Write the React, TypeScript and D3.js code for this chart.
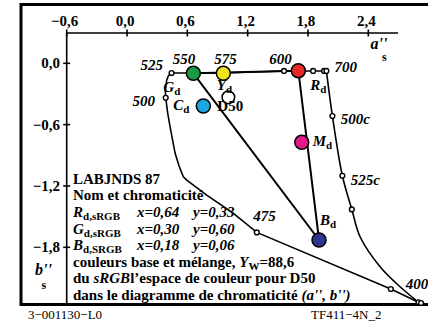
import React from "react";
import * as d3 from "d3";

const xTickValues = [-0.6, 0.0, 0.6, 1.2, 1.8, 2.4];
const xTickLabels = ["−0,6", "0,0", "0,6", "1,2", "1,8", "2,4"];
const yTickValues = [0.0, -0.6, -1.2, -1.8];
const yTickLabels = ["0,0", "−0,6", "−1,2", "−1,8"];

// spectral locus, left/top branch (400 nm -> 700 nm)
const locusA = [2.900, 2.624, 1.291, 1.055, 0.793, 0.594, 0.560, 0.517, 0.478, 0.453, 0.428, 0.403, 0.385, 0.381, 0.395, 0.413, 0.443, 0.657, 0.965, 1.562, 1.692, 1.851, 1.960, 1.983];
const locusB = [-2.338, -2.208, -1.654, -1.465, -1.289, -1.142, -1.110, -1.003, -0.878, -0.750, -0.620, -0.477, -0.337, -0.261, -0.163, -0.119, -0.095, -0.095, -0.095, -0.075, -0.075, -0.075, -0.075, -0.075];
// purple branch (700 -> 400 through compensatory wavelengths)
const purpleA = [1.983, 2.043, 2.142, 2.236, 2.318, 2.517, 2.716, 2.900];
const purpleB = [-0.075, -0.516, -1.100, -1.429, -1.697, -1.990, -2.186, -2.338];
// small marker circles
const markA = [2.900, 2.925, 2.624, 1.291, 0.385, 0.443, 1.562, 1.851, 1.960, 1.983, 2.043, 2.142, 2.236];
const markB = [-2.338, -2.345, -2.208, -1.654, -0.337, -0.095, -0.075, -0.075, -0.075, -0.075, -0.516, -1.100, -1.429];
// wavelength labels
const waveLabels = ["400", "475", "500", "525", "550", "575", "600", "700", "500c", "525c"];
const waveA = [2.900, 1.291, 0.385, 0.443, 0.657, 0.965, 1.562, 1.983, 2.043, 2.142];
const waveB = [-2.338, -1.654, -0.337, -0.095, -0.095, -0.095, -0.075, -0.075, -0.516, -1.100];

// primaries and mixtures
const colorNames = ["G", "Y", "R", "C", "M", "B"];
const colorA = [0.660, 0.958, 1.704, 0.759, 1.738, 1.910];
const colorB = [-0.098, -0.098, -0.072, -0.418, -0.773, -1.729];
const colorFill = ["#1c9a46", "#f4e41c", "#e62a2a", "#1ea6e2", "#e2188b", "#2d3591"];
const triangleOrder = ["G", "R", "B"];
const whiteName = "D50";
const whiteA = 1.008;
const whiteB = -0.333;

const W = 428;
const H = 324;

export default function App() {
  const x = d3.scaleLinear().domain([-0.6, 2.4]).range([66.7, 368.3]);
  const y = d3.scaleLinear().domain([0, -1.8]).range([63.3, 247.3]);

  const line = d3.line<[number, number]>().x((d) => x(d[0])).y((d) => y(d[1]));
  const smooth = d3
    .line<[number, number]>()
    .x((d) => x(d[0]))
    .y((d) => y(d[1]))
    .curve(d3.curveCatmullRom);

  const locus: [number, number][] = locusA.map((a, i) => [a, locusB[i]]);
  const purple: [number, number][] = purpleA.map((a, i) => [a, purpleB[i]]);
  const idx = (n: string) => colorNames.indexOf(n);
  const tri: [number, number][] = triangleOrder.map((n) => [colorA[idx(n)], colorB[idx(n)]]);
  tri.push(tri[0]);

  const P = (n: string) => [x(colorA[idx(n)]), y(colorB[idx(n)])];

  const waveOffsets: Record<string, [number, number, string]> = {
    "400": [-12.8, -13.5, "start"],
    "475": [7.6, -11, "middle"],
    "500": [-10.7, 8.3, "end"],
    "525": [-8.5, -3, "end"],
    "550": [-9, -9.5, "middle"],
    "575": [1.5, -9.5, "middle"],
    "600": [-3.5, -7, "middle"],
    "700": [8, 1.5, "start"],
    "500c": [8.4, 8, "start"],
    "525c": [8.4, 9, "start"],
  };

  const letterOff: Record<string, [number, number]> = {
    G: [-30, 19],
    Y: [-6.6, 17],
    R: [12, 19],
    C: [-30, 4],
    M: [11, 4],
    B: [1, -15],
  };

  const font = "'Liberation Serif', 'Times New Roman', 'DejaVu Serif', serif";
  const fs = 15;
  const sub = 11;

  const xAxisY = 33;
  const xAxisEnd = x(2.696);
  const yAxisBottom = 305;

  const legendX = 73;
  const lh = 16.6;
  const l0 = 183.7;

  const legendRows = [
    { n: "R", s: "d,sRGB", xv: "x=0,64", yv: "y=0,33" },
    { n: "G", s: "d,sRGB", xv: "x=0,30", yv: "y=0,60" },
    { n: "B", s: "d,SRGB", xv: "x=0,18", yv: "y=0,06" },
  ];

  return (
    <svg
      width={W}
      height={H}
      style={{ position: "absolute", left: 0, top: 0, background: "#fff", fontFamily: font }}
    >
      <rect x={0} y={0} width={W} height={H} fill="#fff" />
      {/* frame */}
      <rect x={21} y={4.5} width={440} height={300} fill="none" stroke="#000" strokeWidth={3} />

      {/* x axis */}
      <line x1={x(-0.6)} x2={xAxisEnd} y1={xAxisY} y2={xAxisY} stroke="#000" strokeWidth={1.6} />
      {xTickValues.map((v, i) => (
        <g key={"xt" + i}>
          <line x1={x(v)} x2={x(v)} y1={xAxisY - 3.5} y2={xAxisY + 3.5} stroke="#000" strokeWidth={1.6} />
          <text x={x(v) - 2} y={26} textAnchor="middle" fontSize={fs} fontWeight="bold">
            {xTickLabels[i]}
          </text>
        </g>
      ))}
      {/* y axis */}
      <line x1={x(-0.6)} x2={x(-0.6)} y1={xAxisY} y2={yAxisBottom} stroke="#000" strokeWidth={1.6} />
      {yTickValues.map((v, i) => (
        <g key={"yt" + i}>
          <line x1={x(-0.6) - 3.5} x2={x(-0.6) + 3.5} y1={y(v)} y2={y(v)} stroke="#000" strokeWidth={1.6} />
          <text x={60} y={y(v) + 5} textAnchor="end" fontSize={fs} fontWeight="bold">
            {yTickLabels[i]}
          </text>
        </g>
      ))}
      {/* axis titles */}
      <text x={370.5} y={49} fontSize={fs + 1} fontWeight="bold" fontStyle="italic">a''</text>
      <text x={382} y={61} fontSize={12} fontWeight="bold">s</text>
      <text x={35} y={275} fontSize={fs + 1} fontWeight="bold" fontStyle="italic">b''</text>
      <text x={41.5} y={289} fontSize={12} fontWeight="bold">s</text>

      {/* spectral locus */}
      <path d={line(locus) || ""} fill="none" stroke="#000" strokeWidth={1.6} />
      <path d={smooth(purple) || ""} fill="none" stroke="#000" strokeWidth={1.6} />

      {/* colour triangle */}
      <path d={line(tri) || ""} fill="none" stroke="#000" strokeWidth={2} />

      {markA.map((a, i) => (
        <circle key={"m" + i} cx={x(a)} cy={y(markB[i])} r={2.4} fill="#fff" stroke="#000" strokeWidth={1.4} />
      ))}

      {waveLabels.map((lab, i) => {
        const o = waveOffsets[lab];
        return (
          <text
            key={"w" + i}
            x={x(waveA[i]) + o[0]}
            y={y(waveB[i]) + o[1]}
            textAnchor={o[2] as any}
            fontSize={fs}
            fontWeight="bold"
            fontStyle="italic"
          >
            {lab}
          </text>
        );
      })}

      {/* white point */}
      <circle cx={x(whiteA)} cy={y(whiteB)} r={6.3} fill="#fff" stroke="#000" strokeWidth={1.5} />
      <text x={x(whiteA) - 11} y={y(whiteB) + 13.3} fontSize={fs} fontWeight="bold">{whiteName}</text>

      {/* colour circles */}
      {colorNames.map((n, i) => (
        <circle key={"c" + n} cx={x(colorA[i])} cy={y(colorB[i])} r={7} fill={colorFill[i]} stroke="#000" strokeWidth={1.5} />
      ))}
      {colorNames.map((n, i) => {
        const [px, py] = P(n);
        const o = letterOff[n];
        return (
          <text key={"l" + n} x={px + o[0]} y={py + o[1]} fontSize={fs} fontWeight="bold">
            <tspan fontStyle="italic">{n}</tspan>
            <tspan fontSize={sub} dy={3}>d</tspan>
          </text>
        );
      })}

      {/* legend */}
      <g fontSize={fs} fontWeight="bold">
        <text x={legendX} y={l0}>LABJNDS 87</text>
        <text x={legendX} y={l0 + lh}>Nom et chromaticité</text>
        {legendRows.map((r, i) => (
          <g key={"lr" + i}>
            <text x={legendX} y={l0 + lh * (2 + i)}>
              <tspan fontStyle="italic">{r.n}</tspan>
              <tspan fontSize={sub} dy={3}>{r.s}</tspan>
            </text>
            <text x={137} y={l0 + lh * (2 + i)} fontStyle="italic">{r.xv}</text>
            <text x={193} y={l0 + lh * (2 + i)} fontStyle="italic">{r.yv}</text>
          </g>
        ))}
        <text x={legendX} y={l0 + lh * 5}>
          couleurs base et mélange, <tspan fontStyle="italic">Y</tspan>
          <tspan fontSize={sub} dy={3}>W</tspan>
          <tspan dy={-3}>=88,6</tspan>
        </text>
        <text x={legendX} y={l0 + lh * 6}>
          du <tspan fontStyle="italic">sRGB</tspan>l’espace de couleur pour D50
        </text>
        <text x={legendX} y={l0 + lh * 7}>
          dans le diagramme de chromaticité <tspan fontStyle="italic">(a'', b'')</tspan>
        </text>
      </g>

      {/* footer */}
      <text x={28} y={319} fontSize={13}>3−001130−L0</text>
      <text x={311} y={319} fontSize={13}>TF411−4N_2</text>
    </svg>
  );
}
